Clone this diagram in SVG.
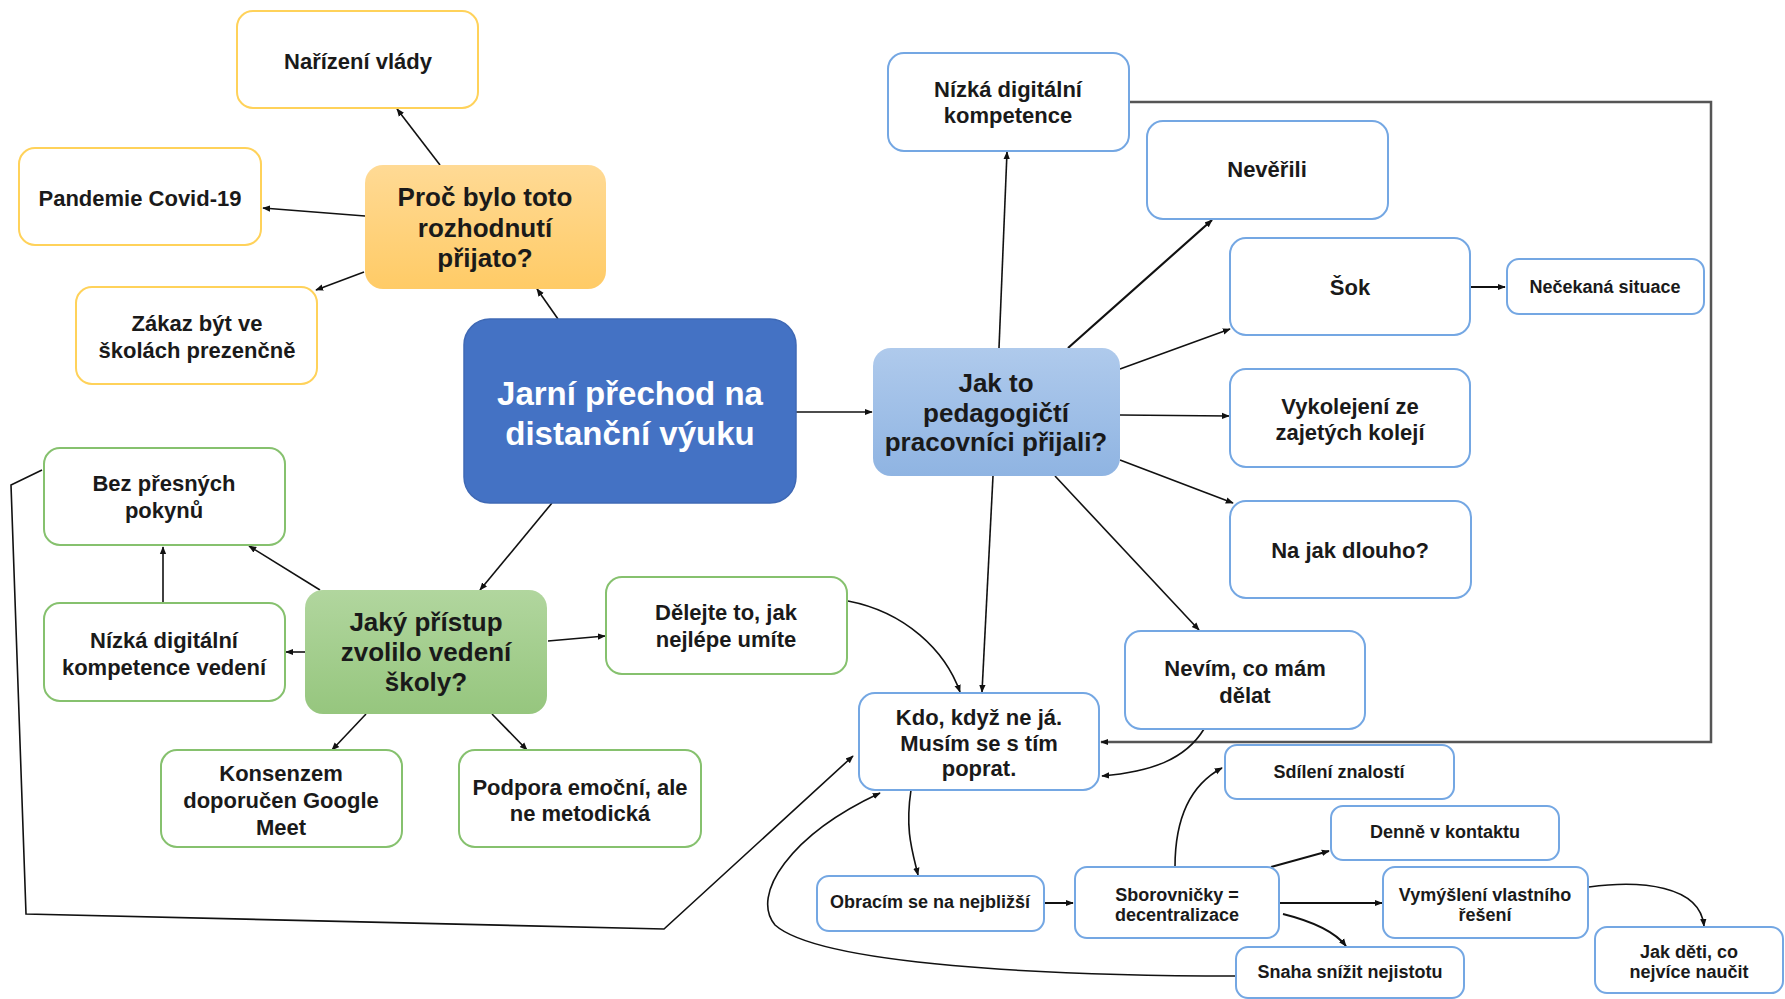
<svg xmlns="http://www.w3.org/2000/svg" width="1785" height="999" viewBox="0 0 1785 999">
<defs>
<linearGradient id="gOr" x1="0" y1="0" x2="0" y2="1"><stop offset="0" stop-color="#FFDA95"/><stop offset="1" stop-color="#FFCB66"/></linearGradient>
<linearGradient id="gBl" x1="0" y1="0" x2="0" y2="1"><stop offset="0" stop-color="#AFCAEC"/><stop offset="1" stop-color="#8FB4E2"/></linearGradient>
<linearGradient id="gGr" x1="0" y1="0" x2="0" y2="1"><stop offset="0" stop-color="#B1D69E"/><stop offset="1" stop-color="#96C67E"/></linearGradient>
<marker id="ar" viewBox="0 0 10 10" refX="9" refY="5" markerWidth="8" markerHeight="8" markerUnits="userSpaceOnUse" orient="auto"><path d="M0,1 L10,5 L0,9 z" fill="#111"/></marker>
</defs>
<style>
text{font-family:"Liberation Sans",Arial,sans-serif;font-weight:bold;fill:#1a1a1a;text-anchor:middle}
.t{font-size:22px}
.s{font-size:18px}
.q{font-size:26px}
.c{font-size:33px;fill:#fff}
.o{fill:#fff;stroke:#FFD25A;stroke-width:2}
.b{fill:#fff;stroke:#74A7E3;stroke-width:2}
.g{fill:#fff;stroke:#86C16E;stroke-width:2}
.e{fill:none;stroke:#111;stroke-width:1.6;marker-end:url(#ar)}
.k{fill:none;stroke:#555;stroke-width:2.5;marker-end:url(#ar)}
</style>
<rect width="1785" height="999" fill="#fff"/>
<g id="connectors">
<path class="e" d="M440,165 L397,109"/>
<path class="e" d="M365,216 L263,208"/>
<path class="e" d="M364,272 L316,290"/>
<path class="e" d="M558,319 L537,289"/>
<path class="e" d="M796,412 L872,412"/>
<path class="e" d="M552,503 L480,590"/>
<path class="e" d="M320,590 L249,546"/>
<path class="e" d="M163,603 L163,547"/>
<path class="e" d="M305,652 L286,652"/>
<path class="e" d="M366,714 L332,750"/>
<path class="e" d="M492,714 L527,750"/>
<path class="e" d="M548,641 L605,636"/>
<path class="e" d="M42,470 L11,485 L26,914 L664,929 L853,756"/>
<path class="e" d="M999,348 L1007,152"/>
<path class="e" d="M1068,348 L1212,220" style="stroke-width:2.2"/>
<path class="e" d="M1120,369 L1230,329"/>
<path class="e" d="M1120,415 L1229,416"/>
<path class="e" d="M1120,460 L1233,503"/>
<path class="e" d="M1471,287 L1505,287" style="stroke-width:2.2"/>
<path class="e" d="M993,476 L982,692"/>
<path class="e" d="M1055,476 L1199,630"/>
<path class="e" d="M848,601 C905,612 945,650 960,692"/>
<path class="k" d="M1129,102 L1711,102 L1711,742 L1101,742"/>
<path class="e" d="M1204,729 C1185,760 1150,772 1102,776"/>
<path class="e" d="M911,790 C905,830 912,850 918,875"/>
<path class="e" d="M1044,903 L1073,903" style="stroke-width:2"/>
<path class="e" d="M1175,867 C1175,820 1190,785 1222,768"/>
<path class="e" d="M1271,867 L1329,851" style="stroke-width:2"/>
<path class="e" d="M1280,903 L1382,903" style="stroke-width:2"/>
<path class="e" d="M1283,914 C1315,922 1335,932 1346,946" style="stroke-width:2"/>
<path class="e" d="M1589,887 C1640,880 1700,885 1704,926"/>
<path class="e" d="M1236,976 C1050,976 820,965 775,925 C750,895 790,835 880,793"/>
</g>
<g id="n-narizeni"><rect class="o" x="237" y="11" width="241" height="97" rx="16"/><text class="t" x="358" y="69">Nařízení vlády</text></g>
<g id="n-pandemie"><rect class="o" x="19" y="148" width="242" height="97" rx="16"/><text class="t" x="140" y="206">Pandemie Covid-19</text></g>
<g id="n-zakaz"><rect class="o" x="76" y="287" width="241" height="97" rx="16"/><text class="t" x="197" y="331">Zákaz být ve</text><text class="t" x="197" y="358">školách prezenčně</text></g>
<g id="n-proc"><rect x="365" y="165" width="241" height="124" rx="18" fill="url(#gOr)"/><text class="q" x="485" y="206">Proč bylo toto</text><text class="q" x="485" y="237">rozhodnutí</text><text class="q" x="485" y="267">přijato?</text></g>
<g id="n-central"><rect x="464" y="319" width="332" height="184" rx="26" fill="#4472C4" stroke="#3F69B5" stroke-width="1.5"/><text class="c" x="630" y="405">Jarní přechod na</text><text class="c" x="630" y="445">distanční výuku</text></g>
<g id="n-jak"><rect x="873" y="348" width="247" height="128" rx="18" fill="url(#gBl)"/><text class="q" x="996" y="392">Jak to</text><text class="q" x="996" y="422">pedagogičtí</text><text class="q" x="996" y="451">pracovníci přijali?</text></g>
<g id="n-nizka"><rect class="b" x="888" y="53" width="241" height="98" rx="16"/><text class="t" x="1008" y="97">Nízká digitální</text><text class="t" x="1008" y="123">kompetence</text></g>
<g id="n-neverili"><rect class="b" x="1147" y="121" width="241" height="98" rx="16"/><text class="t" x="1267" y="177">Nevěřili</text></g>
<g id="n-sok"><rect class="b" x="1230" y="238" width="240" height="97" rx="16"/><text class="t" x="1350" y="295">Šok</text></g>
<g id="n-necekana"><rect class="b" x="1507" y="259" width="197" height="55" rx="12"/><text class="s" x="1605" y="293">Nečekaná situace</text></g>
<g id="n-vykolejeni"><rect class="b" x="1230" y="369" width="240" height="98" rx="16"/><text class="t" x="1350" y="414">Vykolejení ze</text><text class="t" x="1350" y="440">zajetých kolejí</text></g>
<g id="n-najak"><rect class="b" x="1230" y="501" width="241" height="97" rx="16"/><text class="t" x="1350" y="558">Na jak dlouho?</text></g>
<g id="n-nevim"><rect class="b" x="1125" y="631" width="240" height="98" rx="16"/><text class="t" x="1245" y="676">Nevím, co mám</text><text class="t" x="1245" y="703">dělat</text></g>
<g id="n-kdo"><rect class="b" x="859" y="693" width="240" height="97" rx="16"/><text class="t" x="979" y="725">Kdo, když ne já.</text><text class="t" x="979" y="751">Musím se s tím</text><text class="t" x="979" y="776">poprat.</text></g>
<g id="n-sdileni"><rect class="b" x="1225" y="745" width="229" height="54" rx="12"/><text class="s" x="1339" y="778">Sdílení znalostí</text></g>
<g id="n-denne"><rect class="b" x="1331" y="806" width="228" height="54" rx="12"/><text class="s" x="1445" y="838">Denně v kontaktu</text></g>
<g id="n-obracim"><rect class="b" x="817" y="876" width="227" height="55" rx="12"/><text class="s" x="930" y="908">Obracím se na nejbližší</text></g>
<g id="n-sborovnicky"><rect class="b" x="1075" y="867" width="204" height="71" rx="12"/><text class="s" x="1177" y="901">Sborovničky =</text><text class="s" x="1177" y="921">decentralizace</text></g>
<g id="n-vymysleni"><rect class="b" x="1383" y="867" width="205" height="71" rx="12"/><text class="s" x="1485" y="901">Vymýšlení vlastního</text><text class="s" x="1485" y="921">řešení</text></g>
<g id="n-snaha"><rect class="b" x="1236" y="947" width="228" height="51" rx="12"/><text class="s" x="1350" y="978">Snaha snížit nejistotu</text></g>
<g id="n-jakdeti"><rect class="b" x="1595" y="927" width="188" height="66" rx="12"/><text class="s" x="1689" y="958">Jak děti, co</text><text class="s" x="1689" y="978">nejvíce naučit</text></g>
<g id="n-bez"><rect class="g" x="44" y="448" width="241" height="97" rx="16"/><text class="t" x="164" y="491">Bez přesných</text><text class="t" x="164" y="518">pokynů</text></g>
<g id="n-nizkaved"><rect class="g" x="44" y="603" width="241" height="98" rx="16"/><text class="t" x="164" y="648">Nízká digitální</text><text class="t" x="164" y="675">kompetence vedení</text></g>
<g id="n-jaky"><rect x="305" y="590" width="242" height="124" rx="18" fill="url(#gGr)"/><text class="q" x="426" y="631">Jaký přístup</text><text class="q" x="426" y="661">zvolilo vedení</text><text class="q" x="426" y="691">školy?</text></g>
<g id="n-delejte"><rect class="g" x="606" y="577" width="241" height="97" rx="16"/><text class="t" x="726" y="620">Dělejte to, jak</text><text class="t" x="726" y="647">nejlépe umíte</text></g>
<g id="n-konsenzem"><rect class="g" x="161" y="750" width="241" height="97" rx="16"/><text class="t" x="281" y="781">Konsenzem</text><text class="t" x="281" y="808">doporučen Google</text><text class="t" x="281" y="835">Meet</text></g>
<g id="n-podpora"><rect class="g" x="459" y="750" width="242" height="97" rx="16"/><text class="t" x="580" y="795">Podpora emoční, ale</text><text class="t" x="580" y="821">ne metodická</text></g>
</svg>
